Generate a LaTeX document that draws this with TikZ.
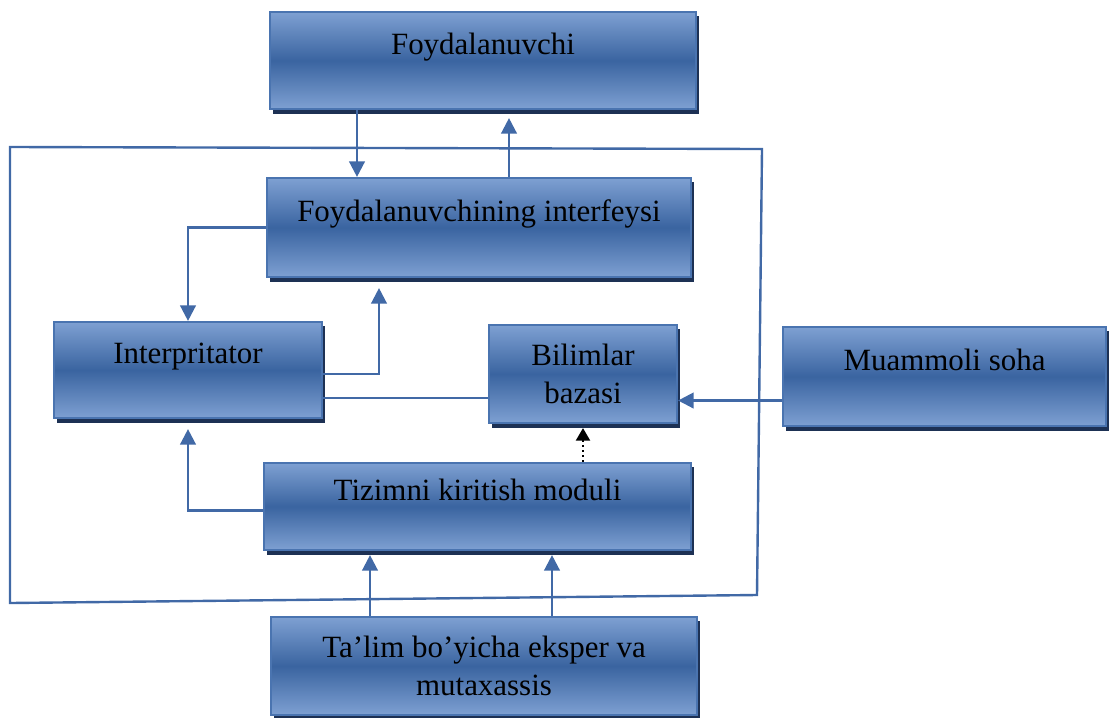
\documentclass[tikz,border=0pt]{standalone}
\usepackage{fontspec}
\setmainfont{Liberation Serif}
\usepackage{tikz}
\usetikzlibrary{arrows.meta,shadows}

\definecolor{boxlight}{HTML}{7EA0D2}
\definecolor{boxdark}{HTML}{3A64A0}
\definecolor{boxedge}{HTML}{4A74B0}
\definecolor{linecol}{HTML}{4169A6}
\definecolor{boxshade}{HTML}{1D3154}

\begin{document}
\begin{tikzpicture}[x=0.025cm,y=-0.025cm,
  font=\fontsize{22}{27}\selectfont,
  blok/.style={draw=boxedge,line width=1.5pt,
    top color=boxlight,bottom color=boxlight,middle color=boxdark,
    drop shadow={shadow xshift=2.4pt,shadow yshift=-3.2pt,fill=boxshade,opacity=1},
    inner sep=0pt,align=center},
  hi/.style={text height=16pt,text depth=25pt},
  wire/.style={draw=linecol,line width=1.7pt},
  conn/.style={wire,-{Triangle[width=11pt,length=11pt]}},
  dots/.style={draw=black,line width=1.6pt,dotted,-{Triangle[width=10pt,length=9pt]}}]
  \useasboundingbox (0,0) rectangle (1109,717);

  % outer frame of the expert system
  \draw[wire] (10,147) -- (762,149) -- (757,595) -- (10,603) -- cycle;

  % blocks
  \node[blok,hi,minimum width=10.65cm,minimum height=2.425cm] (usr) at (483,60.5) {Foydalanuvchi};
  \node[blok,hi,minimum width=10.6cm,minimum height=2.475cm] (ifc) at (479,227.5) {Foydalanuvchining interfeysi};
  \node[blok,hi,minimum width=6.7cm,minimum height=2.4cm] (intp) at (188,370) {Interpritator};
  \node[blok,minimum width=4.7cm,minimum height=2.45cm] (kb) at (583,374) {Bilimlar\\bazasi};
  \node[blok,hi,minimum width=8.075cm,minimum height=2.475cm] (dom) at (944.5,376.5) {Muammoli soha};
  \node[blok,hi,minimum width=10.675cm,minimum height=2.175cm] (inp) at (477.5,506.5) {Tizimni kiritish moduli};
  \node[blok,minimum width=10.65cm,minimum height=2.45cm] (exp) at (484,666) {Ta’lim bo’yicha eksper va\\mutaxassis};

  % columns of the vertical links
  \coordinate (down) at (357,0);
  \coordinate (up) at (509,0);
  \coordinate (back) at (379,0);
  \coordinate (inL) at (370,0);
  \coordinate (inR) at (552,0);

  % links
  \draw[conn] (usr.south -| down) -- (ifc.north -| down);
  \draw[conn,shorten >=0.2cm] (ifc.north -| up) -- (usr.south -| up);
  \draw[conn] (ifc.west) -| (intp.north);
  \draw[conn,shorten >=0.25cm] ([yshift=-0.1cm]intp.east) -| (ifc.south -| back);
  \draw[wire] ([yshift=-0.7cm]intp.east) coordinate (k) -- (k -| kb.west);
  \draw[conn] ([yshift=-0.6cm]dom.west) coordinate (m) -- (m -| kb.east);
  \draw[dots,shorten >=0.1cm] (inp.north -| kb.south) -- (kb.south);
  \draw[conn,shorten >=0.25cm] ([yshift=-0.1cm]inp.west) -| (intp.south);
  \draw[conn,shorten >=0.1cm] (exp.north -| inL) -- (inp.south -| inL);
  \draw[conn,shorten >=0.1cm] (exp.north -| inR) -- (inp.south -| inR);
\end{tikzpicture}
\end{document}
